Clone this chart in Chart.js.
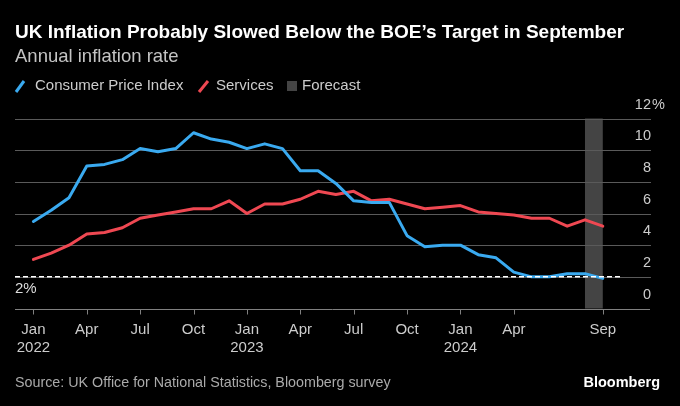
<!DOCTYPE html>
<html><head><meta charset="utf-8">
<script src="https://cdn.jsdelivr.net/npm/chart.js@4.4.1/dist/chart.umd.min.js"></script>
<style>html,body{margin:0;padding:0;background:#000;overflow:hidden}#wrap{width:680px;height:406px;position:relative}</style>
</head><body><div id="wrap"><canvas id="c" width="680" height="406"></canvas></div>
<script>
// ---- data ----
const months = ['2022-01','2022-02','2022-03','2022-04','2022-05','2022-06','2022-07','2022-08','2022-09','2022-10','2022-11','2022-12',
  '2023-01','2023-02','2023-03','2023-04','2023-05','2023-06','2023-07','2023-08','2023-09','2023-10','2023-11','2023-12',
  '2024-01','2024-02','2024-03','2024-04','2024-05','2024-06','2024-07','2024-08','2024-09'];
const cpi = [5.5,6.2,7.0,9.0,9.1,9.4,10.1,9.9,10.1,11.1,10.7,10.5,
  10.1,10.4,10.1,8.7,8.7,7.9,6.8,6.7,6.7,4.6,3.9,4.0,
  4.0,3.4,3.2,2.3,2.0,2.0,2.2,2.2,1.9];
const services = [3.1,3.5,4.0,4.7,4.8,5.1,5.7,5.9,6.1,6.3,6.3,6.8,
  6.0,6.6,6.6,6.9,7.4,7.2,7.4,6.8,6.9,6.6,6.3,6.4,
  6.5,6.1,6.0,5.9,5.7,5.7,5.2,5.6,5.2];
const forecastStart = '2024-08';
const forecastEnd = '2024-09';
const targetRate = 2;
const xTickMonths = ['2022-01','2022-04','2022-07','2022-10','2023-01','2023-04','2023-07','2023-10','2024-01','2024-04','2024-09'];
const xTickLabels = ['Jan','Apr','Jul','Oct','Jan','Apr','Jul','Oct','Jan','Apr','Sep'];
const xTickYears = ['2022','','','','2023','','','','2024','',''];
const yTicks = [0,2,4,6,8,10,12];
const titleText = 'UK Inflation Probably Slowed Below the BOE\u2019s Target in September';
const subtitleText = 'Annual inflation rate';
const sourceText = 'Source: UK Office for National Statistics, Bloomberg survey';

const BLUE = '#3aaaf0', RED = '#ef4852';
const FONT = '"Liberation Sans", Arial, sans-serif';
const idx = m => months.indexOf(m);

const deco = {
  id: 'deco',
  beforeDatasetsDraw(chart) {
    const {ctx, chartArea: a, scales: {x, y}} = chart;
    ctx.save();
    // forecast band
    ctx.fillStyle = '#444444';
    const bx0 = x.getPixelForValue(idx(forecastStart)), bx1 = x.getPixelForValue(idx(forecastEnd));
    ctx.fillRect(bx0, y.getPixelForValue(12), bx1 - bx0, y.getPixelForValue(0) - y.getPixelForValue(12));
    // grid
    ctx.strokeStyle = '#5a5a5a'; ctx.lineWidth = 1;
    yTicks.forEach(v => {
      if (v === 0) return;
      const py = Math.round(y.getPixelForValue(v)) + 0.5;
      ctx.beginPath(); ctx.moveTo(a.left, py); ctx.lineTo(a.right, py); ctx.stroke();
    });
    // axis
    ctx.strokeStyle = '#808080';
    const ay = Math.round(y.getPixelForValue(0)) + 0.5;
    ctx.beginPath(); ctx.moveTo(a.left, ay); ctx.lineTo(a.right - 1, ay); ctx.stroke();
    xTickMonths.forEach(m => {
      const px = Math.round(x.getPixelForValue(idx(m))) + 0.5;
      ctx.beginPath(); ctx.moveTo(px, ay); ctx.lineTo(px, ay + 5); ctx.stroke();
    });
    ctx.restore();
  },
  afterDatasetsDraw(chart) {
    const {ctx, chartArea: a, scales: {x, y}} = chart;
    ctx.save();
    // 2% target dashed line
    ctx.strokeStyle = '#ffffff'; ctx.lineWidth = 1.5; ctx.setLineDash([5, 3]);
    const ty = y.getPixelForValue(targetRate);
    ctx.beginPath(); ctx.moveTo(a.left, ty); ctx.lineTo(x.getPixelForValue(months.length - 1) + 19, ty); ctx.stroke();
    ctx.setLineDash([]);
    ctx.fillStyle = '#dddddd'; ctx.font = '15px ' + FONT; ctx.textAlign = 'left'; ctx.textBaseline = 'middle';
    ctx.fillText(targetRate + '%', a.left, ty + 12);
    // y labels
    ctx.fillStyle = '#cccccc'; ctx.font = '14.5px ' + FONT;
    yTicks.forEach(v => {
      const py = y.getPixelForValue(v) - 14;
      ctx.textAlign = 'right';
      ctx.fillText(String(v), a.right, py);
      if (v === 12) { ctx.textAlign = 'left'; ctx.fillText('%', a.right + 1, py); }
    });
    // x labels
    ctx.textAlign = 'center'; ctx.font = '15px ' + FONT;
    xTickMonths.forEach((m, i) => {
      const px = x.getPixelForValue(idx(m));
      ctx.fillText(xTickLabels[i], px, 330);
      if (xTickYears[i]) ctx.fillText(xTickYears[i], px, 348);
    });
    // title etc.
    ctx.textAlign = 'left';
    ctx.fillStyle = '#ffffff'; ctx.font = 'bold 19px ' + FONT;
    ctx.fillText(titleText, 15, 33);
    ctx.fillStyle = '#c4c4c4'; ctx.font = '18.5px ' + FONT;
    ctx.fillText(subtitleText, 15, 57);
    // legend
    ctx.font = '15px ' + FONT; ctx.fillStyle = '#cccccc';
    const ly = 86;
    ctx.lineWidth = 3; ctx.lineCap = 'butt';
    ctx.strokeStyle = BLUE; ctx.beginPath(); ctx.moveTo(16, ly + 6); ctx.lineTo(24, ly - 5); ctx.stroke();
    ctx.fillText('Consumer Price Index', 35, ly);
    ctx.strokeStyle = RED; ctx.beginPath(); ctx.moveTo(199, ly + 6); ctx.lineTo(208, ly - 5); ctx.stroke();
    ctx.fillText('Services', 216, ly);
    ctx.fillStyle = '#444444'; ctx.fillRect(287, ly - 5, 10, 10);
    ctx.fillStyle = '#cccccc'; ctx.fillText('Forecast', 302, ly);
    // source
    ctx.fillStyle = '#aaaaaa'; ctx.font = '14.3px ' + FONT;
    ctx.fillText(sourceText, 15, 383);
    ctx.fillStyle = '#ffffff'; ctx.font = 'bold 14.5px ' + FONT; ctx.textAlign = 'right';
    ctx.fillText('Bloomberg', 660, 383);
    ctx.restore();
  }
};

new Chart(document.getElementById('c'), {
  type: 'line',
  data: {
    datasets: [
      {label: 'Consumer Price Index', data: cpi.map((v, i) => ({x: i, y: v})), borderColor: BLUE, borderWidth: 3},
      {label: 'Services', data: services.map((v, i) => ({x: i, y: v})), borderColor: RED, borderWidth: 3}
    ]
  },
  options: {
    responsive: false, animation: false, devicePixelRatio: 1,
    layout: {padding: {left: 15, right: 29, top: 118.5, bottom: 97.5}},
    elements: {point: {radius: 0}, line: {tension: 0, borderJoinStyle: 'round', borderCapStyle: 'round'}},
    plugins: {legend: {display: false}, tooltip: {enabled: false}},
    scales: {
      x: {type: 'linear', display: false, min: -1.034, max: 34.71},
      y: {type: 'linear', display: false, min: 0, max: 12}
    }
  },
  plugins: [deco]
});
</script></body></html>
